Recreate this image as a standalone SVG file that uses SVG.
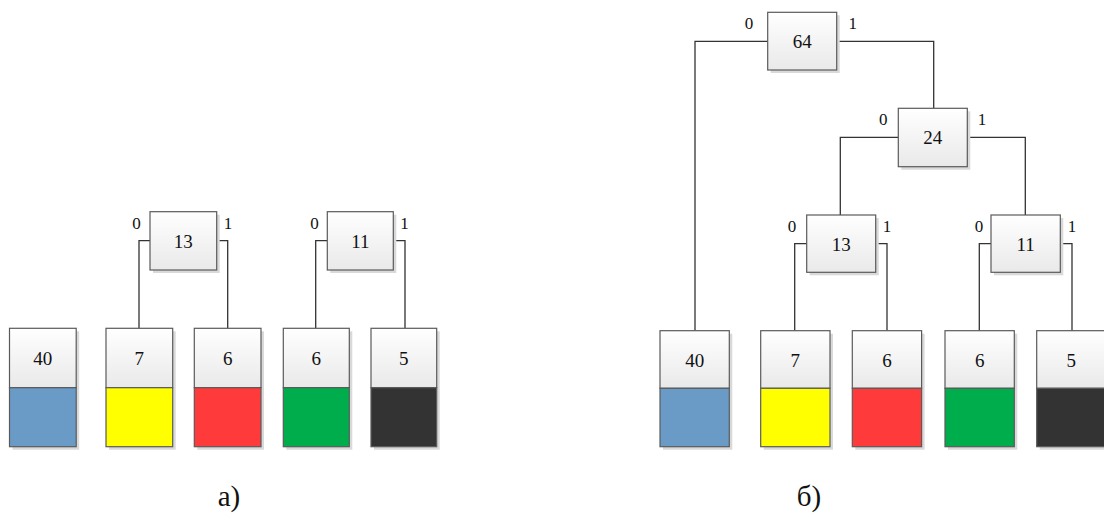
<svg xmlns="http://www.w3.org/2000/svg" width="1104" height="515" viewBox="0 0 1104 515">
  <defs>
    <linearGradient id="cap" x1="0" y1="0" x2="0" y2="1">
      <stop offset="0" stop-color="#ffffff"/>
      <stop offset="1" stop-color="#e9e9e9"/>
    </linearGradient>
    <style>
      .box { fill: url(#cap); stroke: #5a5a5a; stroke-width: 1.2; }
      .shadow { fill: #d9d9d9; }
      .sw { stroke: #5a5a5a; stroke-width: 1.2; }
      .wire { fill: none; stroke: #333; stroke-width: 1.3; }
      .num { font-family: "Liberation Serif", "DejaVu Serif", serif; font-size: 19px; fill: #111; text-anchor: middle; }
      .bit { font-family: "Liberation Serif", "DejaVu Serif", serif; font-size: 17px; fill: #111; text-anchor: middle; }
      .cap { font-family: "Liberation Serif", "DejaVu Serif", serif; font-size: 29px; fill: #111; text-anchor: middle; }
    </style>
  </defs>

  <!-- connectors -->
  <g id="connectors">
    <!-- part a -->
    <path class="wire" d="M150 240.7 H139 V328.3"/>
    <path class="wire" d="M216.7 240.7 H227.7 V328.3"/>
    <path class="wire" d="M327.3 240.7 H315.7 V328.3"/>
    <path class="wire" d="M393.3 240.7 H405 V328.3"/>
    <!-- part b -->
    <path class="wire" d="M767.7 41.3 H695 V330.7"/>
    <path class="wire" d="M836.7 41.3 H933.7 V108.3"/>
    <path class="wire" d="M898.3 137.3 H840.3 V215"/>
    <path class="wire" d="M967.3 137.3 H1025.3 V215"/>
    <path class="wire" d="M806.7 243.7 H794.7 V330.7"/>
    <path class="wire" d="M875.7 243.7 H887 V330.7"/>
    <path class="wire" d="M991 243.7 H979.3 V330.7"/>
    <path class="wire" d="M1060.3 243.7 H1072 V330.7"/>
  </g>

  <!-- ===== part a ===== -->
  <g id="a-leaf-40">
    <rect class="shadow" x="12.5" y="331.3" width="66.7" height="118.4"/>
    <rect class="box" x="9.5" y="328.3" width="66.7" height="59.4"/>
    <rect class="sw" x="9.5" y="387.7" width="66.7" height="59" fill="#6a9bc6"/>
    <text class="num" x="42.8" y="364.5">40</text>
  </g>
  <g id="a-leaf-7">
    <rect class="shadow" x="109" y="331.3" width="66.7" height="118.4"/>
    <rect class="box" x="106" y="328.3" width="66.7" height="59.4"/>
    <rect class="sw" x="106" y="387.7" width="66.7" height="59" fill="#ffff00"/>
    <text class="num" x="139.3" y="364.5">7</text>
  </g>
  <g id="a-leaf-6r">
    <rect class="shadow" x="197.3" y="331.3" width="66.7" height="118.4"/>
    <rect class="box" x="194.3" y="328.3" width="66.7" height="59.4"/>
    <rect class="sw" x="194.3" y="387.7" width="66.7" height="59" fill="#ff3a3a"/>
    <text class="num" x="227.7" y="364.5">6</text>
  </g>
  <g id="a-leaf-6g">
    <rect class="shadow" x="286.3" y="331.3" width="66" height="118.4"/>
    <rect class="box" x="283.3" y="328.3" width="66" height="59.4"/>
    <rect class="sw" x="283.3" y="387.7" width="66" height="59" fill="#00ad4c"/>
    <text class="num" x="316.3" y="364.5">6</text>
  </g>
  <g id="a-leaf-5">
    <rect class="shadow" x="374" y="331.3" width="65.7" height="118.4"/>
    <rect class="box" x="371" y="328.3" width="65.7" height="59.4"/>
    <rect class="sw" x="371" y="387.7" width="65.7" height="59" fill="#333333"/>
    <text class="num" x="403.8" y="364.5">5</text>
  </g>
  <g id="a-node-13">
    <rect class="shadow" x="153" y="214.7" width="66.7" height="58.3"/>
    <rect class="box" x="150" y="211.7" width="66.7" height="58.3"/>
    <text class="num" x="183.3" y="247.5">13</text>
    <text class="bit" x="136.5" y="229">0</text>
    <text class="bit" x="228" y="229">1</text>
  </g>
  <g id="a-node-11">
    <rect class="shadow" x="330.3" y="214.7" width="66" height="58.3"/>
    <rect class="box" x="327.3" y="211.7" width="66" height="58.3"/>
    <text class="num" x="360.3" y="247.5">11</text>
    <text class="bit" x="314.5" y="229">0</text>
    <text class="bit" x="404.5" y="229">1</text>
  </g>
  <text class="cap" x="229" y="506">а)</text>

  <!-- ===== part b ===== -->
  <g id="b-leaf-40">
    <rect class="shadow" x="663" y="333.7" width="69.3" height="116"/>
    <rect class="box" x="660" y="330.7" width="69.3" height="57.6"/>
    <rect class="sw" x="660" y="388.3" width="69.3" height="58.4" fill="#6a9bc6"/>
    <text class="num" x="694.7" y="366.5">40</text>
  </g>
  <g id="b-leaf-7">
    <rect class="shadow" x="763.7" y="333.7" width="69.3" height="116"/>
    <rect class="box" x="760.7" y="330.7" width="69.3" height="57.6"/>
    <rect class="sw" x="760.7" y="388.3" width="69.3" height="58.4" fill="#ffff00"/>
    <text class="num" x="795.3" y="366.5">7</text>
  </g>
  <g id="b-leaf-6r">
    <rect class="shadow" x="855.3" y="333.7" width="69.3" height="116"/>
    <rect class="box" x="852.3" y="330.7" width="69.3" height="57.6"/>
    <rect class="sw" x="852.3" y="388.3" width="69.3" height="58.4" fill="#ff3a3a"/>
    <text class="num" x="887" y="366.5">6</text>
  </g>
  <g id="b-leaf-6g">
    <rect class="shadow" x="948" y="333.7" width="69.3" height="116"/>
    <rect class="box" x="945" y="330.7" width="69.3" height="57.6"/>
    <rect class="sw" x="945" y="388.3" width="69.3" height="58.4" fill="#00ad4c"/>
    <text class="num" x="979.7" y="366.5">6</text>
  </g>
  <g id="b-leaf-5">
    <rect class="shadow" x="1039.7" y="333.7" width="69.3" height="116"/>
    <rect class="box" x="1036.7" y="330.7" width="69.3" height="57.6"/>
    <rect class="sw" x="1036.7" y="388.3" width="69.3" height="58.4" fill="#333333"/>
    <text class="num" x="1071.3" y="366.5">5</text>
  </g>
  <g id="b-node-64">
    <rect class="shadow" x="770.7" y="15.3" width="69" height="57.7"/>
    <rect class="box" x="767.7" y="12.3" width="69" height="57.7"/>
    <text class="num" x="802.2" y="47.5">64</text>
    <text class="bit" x="749" y="29">0</text>
    <text class="bit" x="852.7" y="29">1</text>
  </g>
  <g id="b-node-24">
    <rect class="shadow" x="901.3" y="111.3" width="69" height="58.4"/>
    <rect class="box" x="898.3" y="108.3" width="69" height="58.4"/>
    <text class="num" x="932.8" y="144">24</text>
    <text class="bit" x="883.3" y="125">0</text>
    <text class="bit" x="982" y="125">1</text>
  </g>
  <g id="b-node-13">
    <rect class="shadow" x="809.7" y="218" width="69" height="57.3"/>
    <rect class="box" x="806.7" y="215" width="69" height="57.3"/>
    <text class="num" x="841.2" y="250.5">13</text>
    <text class="bit" x="792" y="232">0</text>
    <text class="bit" x="887" y="232">1</text>
  </g>
  <g id="b-node-11">
    <rect class="shadow" x="994" y="218" width="69.3" height="57.3"/>
    <rect class="box" x="991" y="215" width="69.3" height="57.3"/>
    <text class="num" x="1025.6" y="250.5">11</text>
    <text class="bit" x="979" y="232">0</text>
    <text class="bit" x="1072" y="232">1</text>
  </g>
  <text class="cap" x="809" y="506">б)</text>
</svg>
